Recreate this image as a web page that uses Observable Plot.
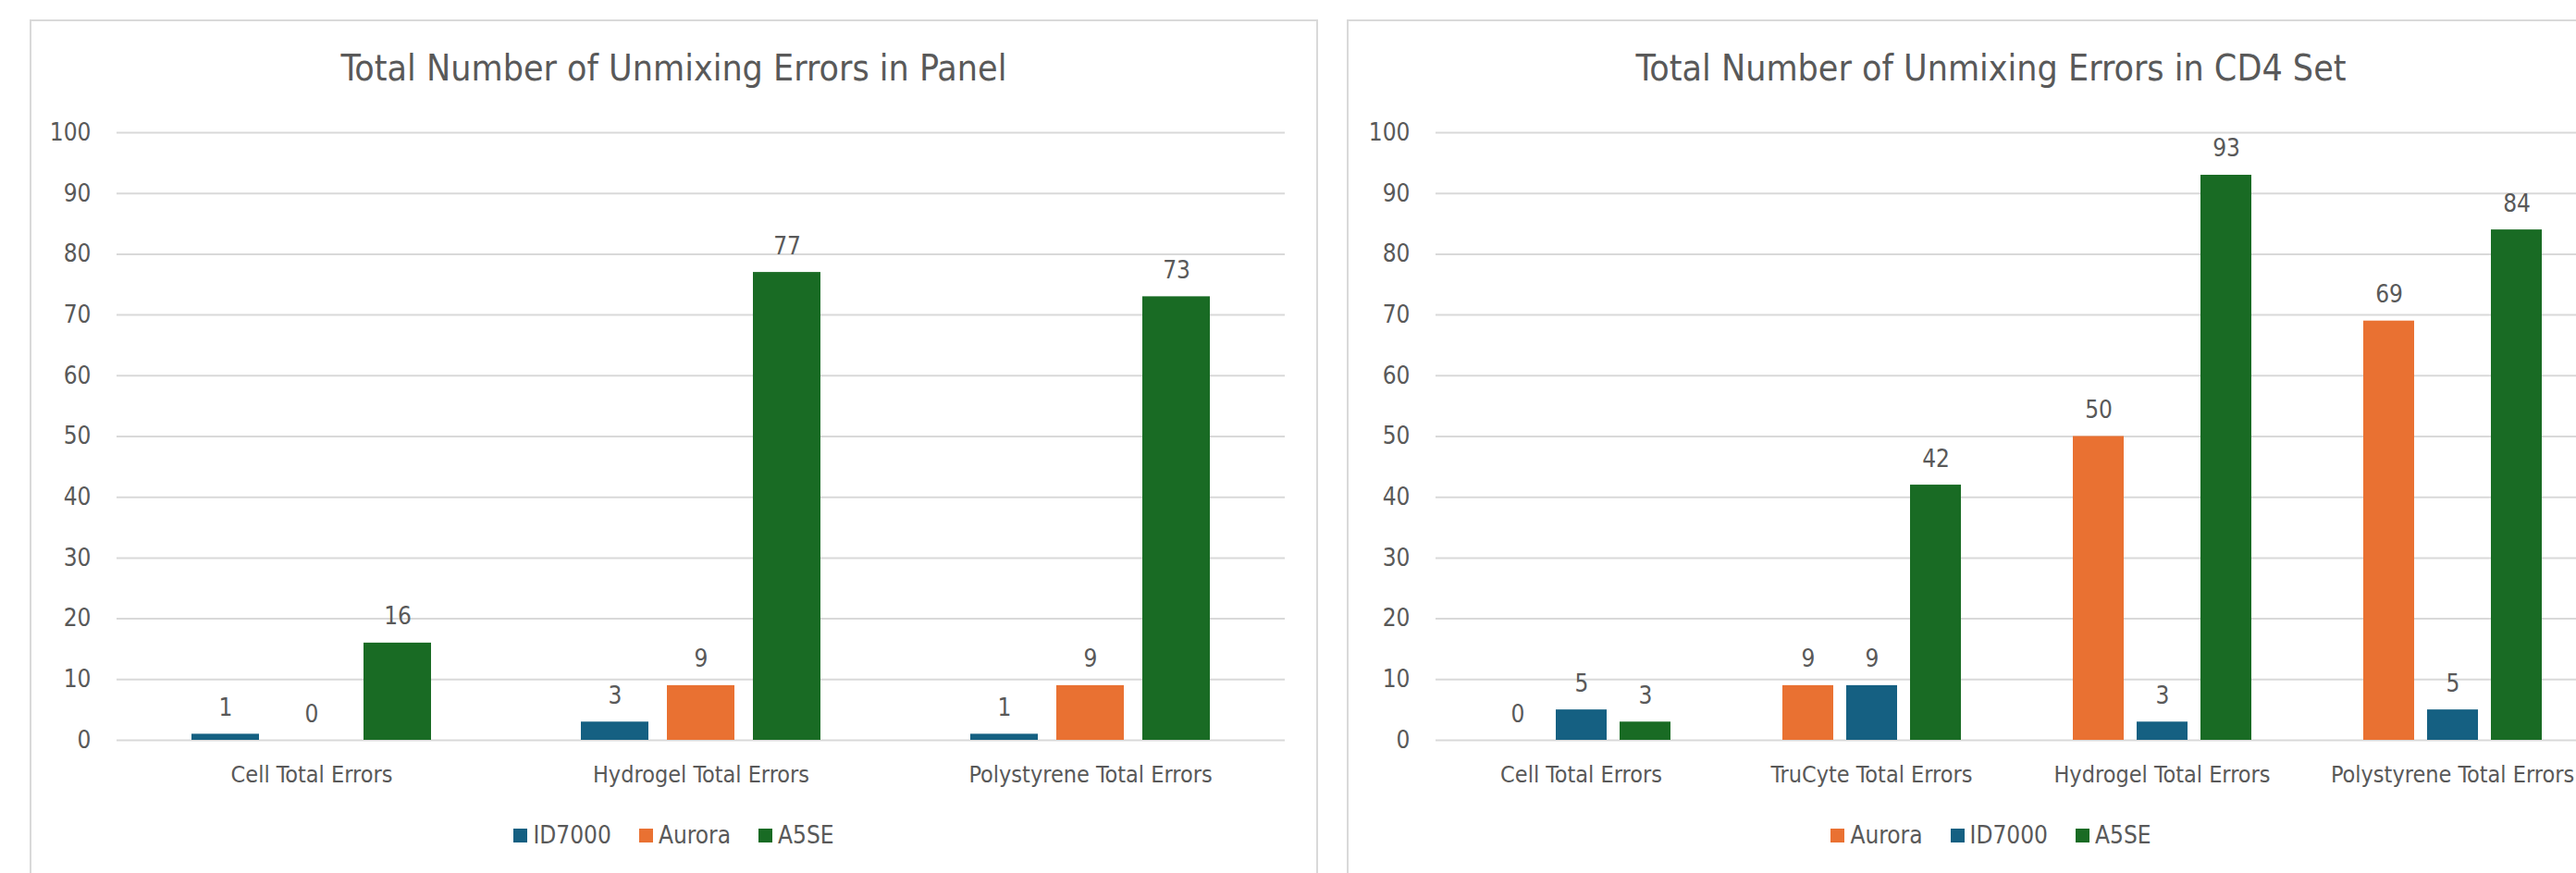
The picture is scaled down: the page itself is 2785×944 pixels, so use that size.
<!DOCTYPE html>
<html>
<head>
<meta charset="utf-8">
<script src="https://cdn.jsdelivr.net/npm/d3@7"></script>
<script src="https://cdn.jsdelivr.net/npm/@observablehq/plot@0.6"></script>
<style>
  html, body { margin: 0; padding: 0; background: #fff; overflow: hidden; width: 2785px; height: 944px; }
  body { position: relative; font-family: "Liberation Sans Narrow", "DejaVu Sans Condensed", sans-serif; color: #595959; }
  .panel { position: absolute; top: 21px; width: 1389px; height: 1000px; border: 2px solid #D9D9D9; box-sizing: content-box; }
  .title { position: absolute; top: 54px; width: 1393px; text-align: center; font-size: 39px; line-height: 39px; color: #595959; white-space: nowrap; }
  .chart { position: absolute; top: 110px; }
  .legend { position: absolute; top: 890px; width: 1393px; display: flex; justify-content: center; gap: 30px; font-size: 26px; line-height: 26px; color: #595959; }
  .legend span.item { display: inline-flex; align-items: center; gap: 6px; }
  .legend i { display: inline-block; width: 15px; height: 15px; }
</style>
</head>
<body>
<script>
// ---- Data ----
const seriesColors = {ID7000: "#156082", Aurora: "#E97132", A5SE: "#196B24"};

const panelTitle = "Total Number of Unmixing Errors in Panel";
const panelCategories = ["Cell Total Errors", "Hydrogel Total Errors", "Polystyrene Total Errors"];
const panelSeries = ["ID7000", "Aurora", "A5SE"];
const panelID7000 = [1, 3, 1];
const panelAurora = [0, 9, 9];
const panelA5SE = [16, 77, 73];

const cd4Title = "Total Number of Unmixing Errors in CD4 Set";
const cd4Categories = ["Cell Total Errors", "TruCyte Total Errors", "Hydrogel Total Errors", "Polystyrene Total Errors"];
const cd4Series = ["Aurora", "ID7000", "A5SE"];
const cd4Aurora = [0, 9, 50, 69];
const cd4ID7000 = [5, 9, 3, 5];
const cd4A5SE = [3, 42, 93, 84];

const yTicks = [0, 10, 20, 30, 40, 50, 60, 70, 80, 90, 100];

function toRows(categories, seriesNames, valuesBySeries) {
  const rows = [];
  categories.forEach((c, i) => {
    seriesNames.forEach(s => rows.push({category: c, series: s, value: valuesBySeries[s][i]}));
  });
  return rows;
}

const panelRows = toRows(panelCategories, panelSeries, {ID7000: panelID7000, Aurora: panelAurora, A5SE: panelA5SE});
const cd4Rows = toRows(cd4Categories, cd4Series, {Aurora: cd4Aurora, ID7000: cd4ID7000, A5SE: cd4A5SE});

const FONT = '"Liberation Sans Narrow", "DejaVu Sans Condensed", sans-serif';

function makeChart(rows, categories, seriesNames, width) {
  return Plot.plot({
    width: width,
    height: 750,
    marginLeft: 92,
    marginRight: 20,
    marginTop: 33,
    marginBottom: 60,
    style: {color: "#595959", fontFamily: FONT, fontSize: "26px", background: "transparent", overflow: "visible"},
    fx: {domain: categories, padding: 0, label: null},
    x: {domain: seriesNames, paddingInner: 0.21, paddingOuter: 0.85, axis: null},
    y: {domain: [0, 100], label: null},
    color: {domain: Object.keys(seriesColors), range: Object.values(seriesColors)},
    marks: [
      Plot.gridY(yTicks, {stroke: "#D9D9D9", strokeOpacity: 1, strokeWidth: 2}),
      Plot.axisY(yTicks, {tickSize: 0, tickPadding: 28, fontSize: 26, label: null, fill: "#595959"}),
      Plot.axisFx({anchor: "bottom", tickSize: 0, tickPadding: 28, fontSize: 25, label: null, fill: "#595959"}),
      Plot.barY(rows, {fx: "category", x: "series", y: "value", fill: "series"}),
      Plot.text(rows, {fx: "category", x: "series", y: "value", text: d => String(d.value), dy: -20, lineAnchor: "bottom", fontSize: 26, fill: "#595959"})
    ]
  });
}

function makePanel(left, title, rows, categories, seriesNames, width) {
  const panel = document.createElement("div");
  panel.className = "panel";
  panel.style.left = left + "px";
  document.body.appendChild(panel);

  const t = document.createElement("div");
  t.className = "title";
  t.style.left = left + "px";
  t.textContent = title;
  document.body.appendChild(t);

  const chart = makeChart(rows, categories, seriesNames, width);
  chart.classList.add("chart");
  chart.style.left = (left + 2) + "px";
  chart.style.position = "absolute";
  chart.style.top = "110px";
  document.body.appendChild(chart);

  const lg = document.createElement("div");
  lg.className = "legend";
  lg.style.left = left + "px";
  seriesNames.forEach(s => {
    const item = document.createElement("span");
    item.className = "item";
    const sw = document.createElement("i");
    sw.style.background = seriesColors[s];
    const label = document.createElement("span");
    label.textContent = s;
    item.appendChild(sw);
    item.appendChild(label);
    lg.appendChild(item);
  });
  document.body.appendChild(lg);
}

makePanel(32, panelTitle, panelRows, panelCategories, panelSeries, 1375);
makePanel(1456, cd4Title, cd4Rows, cd4Categories, cd4Series, 1371);
</script>
</body>
</html>
